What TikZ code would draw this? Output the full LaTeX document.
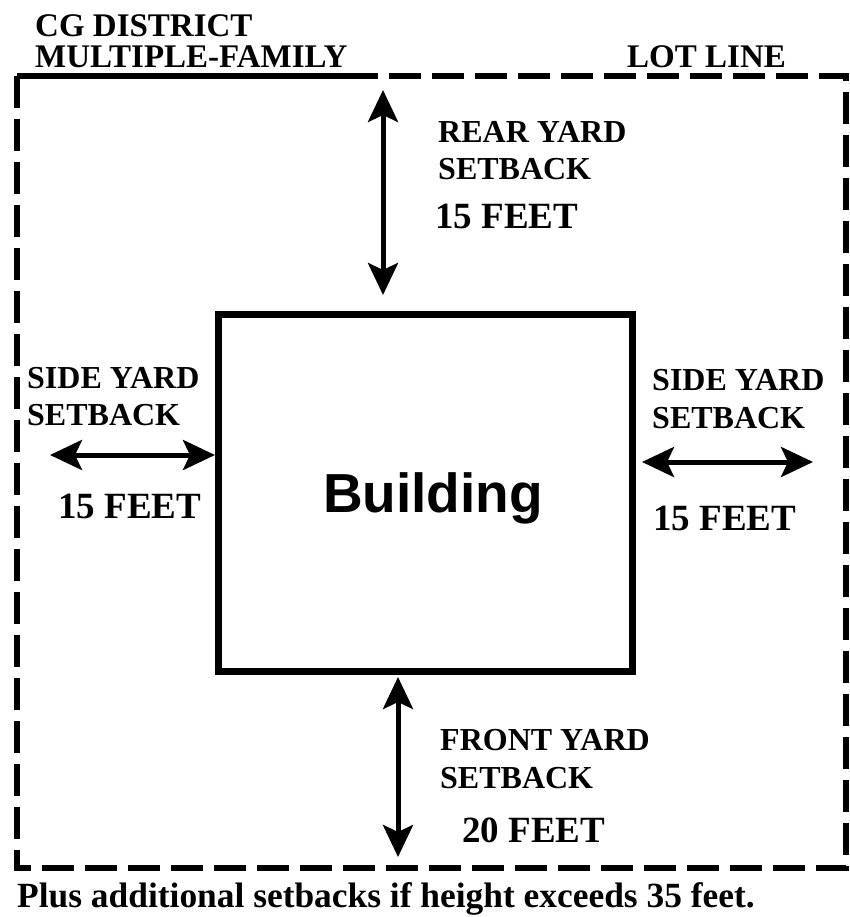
\documentclass[tikz,border=0pt]{standalone}
\usepackage{fontspec}
\setmainfont{Liberation Serif}
\newfontfamily\bldgfont{Liberation Sans}
\usetikzlibrary{arrows.meta,positioning}
\tikzset{
  lotline/.style={line width=6pt,dash pattern=on 32pt off 11pt},
  dimarr/.style={{Stealth[length=32pt,width=30pt,inset=7pt]}-{Stealth[length=32pt,width=30pt,inset=7pt]},line width=5pt},
  lbl/.style={font=\fontsize{32}{37}\selectfont\bfseries,anchor=base west,inner sep=0pt},
  title/.style={font=\fontsize{33}{38}\selectfont\bfseries,anchor=base west,inner sep=0pt},
  dist/.style={font=\fontsize{37}{42}\selectfont\bfseries,anchor=base west,inner sep=0pt},
  house/.style={draw,line width=7pt,minimum width=414pt,minimum height=357pt,inner sep=0pt}
}
\begin{document}
\begin{tikzpicture}[x=1pt,y=-1pt]
\useasboundingbox (0,0) rectangle (849,917);
% lot line
\coordinate (lotnw) at (17,76);
\coordinate (lotse) at (846,868);
\draw[lotline] (lotnw) rectangle (lotse);
\node[title] (cg1) at (35,37) {CG DISTRICT};
\node[title] (cg2) at (35,68) {MULTIPLE-FAMILY};
\draw[line width=6pt] (lotnw) -- (lotnw -| cg2.east);
\node[title] (lot) at (627,68) {LOT LINE};
% building
\node[house] (bldg) at (425,492.5) {};
\node[font=\bldgfont\bfseries\fontsize{55}{60}\selectfont,anchor=base,inner sep=0pt] (bname) at (433,512) {Building};
% rear yard
\coordinate (reara) at (383,90);
\coordinate (rearb) at (383,295);
\draw[dimarr] (reara) -- (rearb);
\node[lbl] (rear1) at (438,143) {REAR YARD};
\node[lbl] (rear2) at (438,180) {SETBACK};
\node[dist] (rear3) at (435,229) {15 FEET};
% side yards
\coordinate (lefta) at (50,455);
\coordinate (leftb) at (215,455);
\draw[dimarr] (lefta) -- (leftb);
\node[lbl] (left1) at (27,388) {SIDE YARD};
\node[lbl] (left2) at (27,425) {SETBACK};
\node[dist] (left3) at (58,518) {15 FEET};
\coordinate (righta) at (642,462);
\coordinate (rightb) at (813,462);
\draw[dimarr] (righta) -- (rightb);
\node[lbl] (right1) at (652,390) {SIDE YARD};
\node[lbl] (right2) at (652,428) {SETBACK};
\node[dist] (right3) at (653,530) {15 FEET};
% front yard
\coordinate (fronta) at (398,677);
\coordinate (frontb) at (398,857);
\draw[dimarr] (fronta) -- (frontb);
\node[lbl] (front1) at (440,750) {FRONT YARD};
\node[lbl] (front2) at (440,788) {SETBACK};
\node[dist] (front3) at (462,842) {20 FEET};
% note
\node[font=\fontsize{35.4}{40}\selectfont\bfseries,anchor=base west,inner sep=0pt] (note) at (17,907) {Plus additional setbacks if height exceeds 35 feet.};
\end{tikzpicture}
\end{document}
